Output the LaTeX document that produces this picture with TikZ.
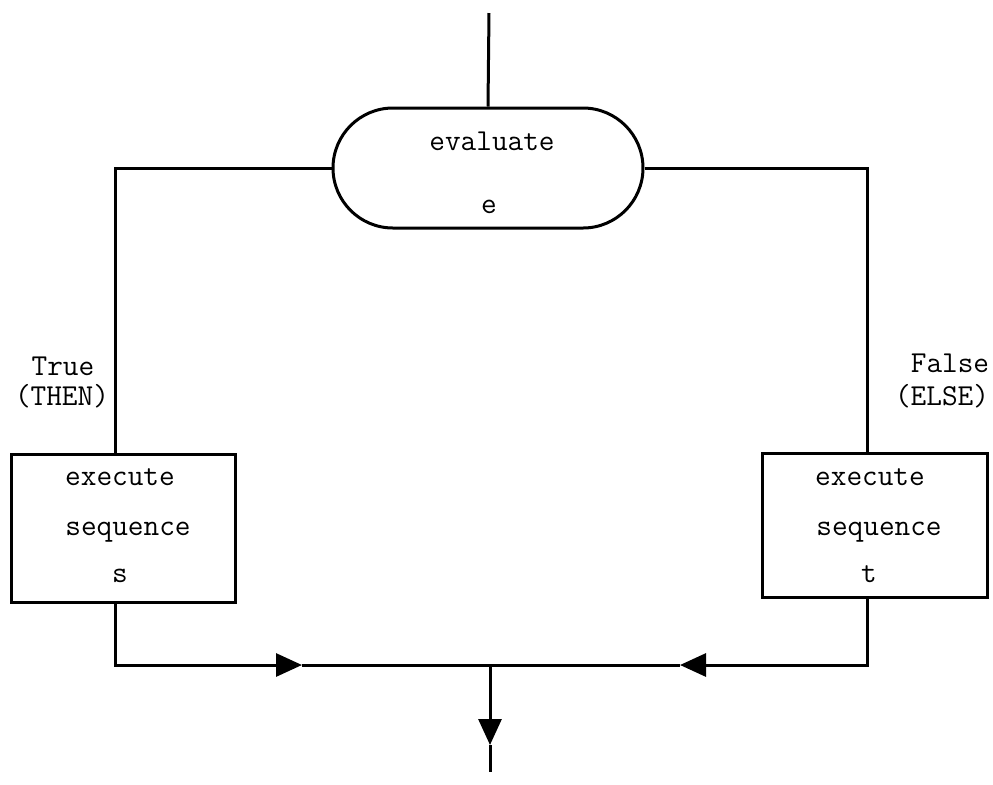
\documentclass[tikz,border=0pt]{standalone}
\usetikzlibrary{arrows.meta,shapes.misc}
\begin{document}
\begin{tikzpicture}[x=0.5pt,y=-0.5pt,
  line/.style={line width=1.5pt},
  flowbox/.style={draw,line width=1.5pt,rectangle,inner sep=0pt},
  stadium/.style={draw,line width=1.5pt,rounded rectangle,inner sep=0pt,
    minimum width=155pt,minimum height=60pt},
  txt/.style={font=\ttfamily\fontsize{15.2}{18}\selectfont,anchor=base,inner sep=0pt},
  tip/.style={-{Triangle[length=13pt,width=11.5pt]}}]
\useasboundingbox (0,0) rectangle (993,784);

% decision and the two branches
\node[stadium] (eval) at (488,168) {};
\node[flowbox,minimum width=112pt,minimum height=74pt] (boxL) at (123,528) {};
\node[flowbox,minimum width=112.5pt,minimum height=72pt] (boxR) at (874.5,525) {};

% texts
\node[txt] (evalA) at (492,150) {evaluate};
\node[txt] (evalB) at (489,213) {e};
\node[txt] (lA) at (120,485) {execute};
\node[txt] (lB) at (128,535) {sequence};
\node[txt] (lC) at (120,582) {s};
\node[txt] (rA) at (870,485) {execute};
\node[txt] (rB) at (879,535) {sequence};
\node[txt] (rC) at (869,582) {t};
\node[txt] (trueA) at (63,375) {True};
\node[txt] (trueB) at (62,405) {(THEN)};
\node[txt] (falseA) at (950,372) {False};
\node[txt] (falseB) at (942,405) {(ELSE)};

% connectors
\coordinate (top) at (489,13);
\coordinate (lcol) at (115,0);
\coordinate (rcol) at (867,0);
\coordinate (merge) at (490,665);
\coordinate (tipL) at (302,665);
\coordinate (tipR) at (680,665);
\coordinate (tipD) at (490,745);
\coordinate (exit) at (490,772);

\draw[line] (top) -- (eval.north);
\draw[line] (eval.west) -| (boxL.north -| lcol);
\draw[line] (eval.east) -| (boxR.north -| rcol);
\draw[line,tip] (boxL.south -| lcol) |- (tipL);
\draw[line] (tipL) -- (merge);
\draw[line,tip] (boxR.south -| rcol) |- (tipR);
\draw[line] (tipR) -- (merge);
\draw[line,tip] (merge) -- (tipD);
\draw[line] (tipD) -- (exit);
\end{tikzpicture}
\end{document}
